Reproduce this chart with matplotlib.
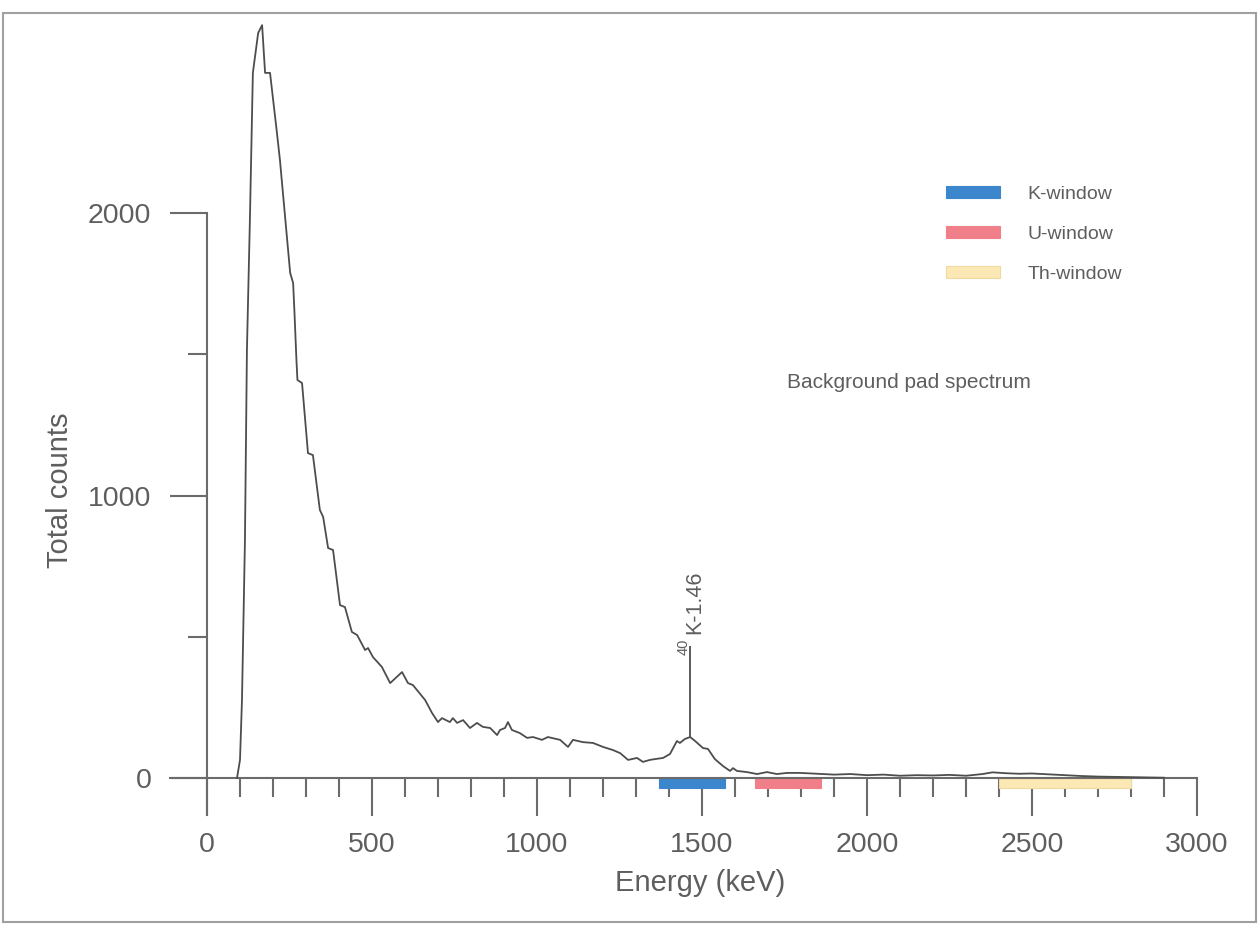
import matplotlib
matplotlib.use("Agg")
import matplotlib.pyplot as plt
from matplotlib.patches import Patch, Rectangle
from matplotlib.ticker import FixedLocator

plt.rcParams['font.family'] = ['Liberation Sans', 'DejaVu Sans']

# ---- data ----
energy = [91, 100, 106, 115, 121, 130, 139, 155, 167, 176, 191, 212, 221, 252, 261,
          265, 271, 274, 288, 306, 321, 342, 352, 367, 382, 403, 418, 439, 455, 479,
          488, 503, 530, 555, 591, 609, 624, 661, 682, 700, 712, 736, 745, 758, 776,
          797, 818, 836, 858, 879, 888, 903, 912, 924, 948, 970, 988, 1015, 1033,
          1070, 1094, 1109, 1139, 1170, 1200, 1230, 1252, 1276, 1303, 1321, 1342,
          1358, 1382, 1403, 1424, 1433, 1448, 1464, 1479, 1503, 1518, 1539, 1564,
          1585, 1594, 1606, 1636, 1667, 1697, 1727, 1758, 1797, 1850, 1900, 1950,
          2000, 2050, 2100, 2150, 2200, 2250, 2300, 2350, 2380, 2420, 2460, 2500,
          2550, 2600, 2650, 2700, 2750, 2800, 2850, 2900]
counts = [0, 64, 276, 842, 1515, 1975, 2496, 2637, 2665, 2496, 2496, 2283, 2188, 1788, 1752,
          1650, 1480, 1409, 1398, 1150, 1143, 949, 924, 814, 807, 612, 605, 517, 506, 453,
          460, 428, 393, 336, 375, 336, 329, 276, 230, 198, 212, 198, 212, 195, 205,
          177, 195, 181, 177, 152, 170, 177, 198, 170, 159, 142, 145, 135, 145,
          135, 110, 135, 127, 124, 110, 99, 88, 64, 71, 57, 64,
          67, 71, 85, 131, 124, 138, 145, 131, 106, 103, 67, 42,
          25, 35, 25, 21, 14, 21, 14, 18, 18, 15, 12, 14,
          10, 12, 8, 10, 9, 11, 8, 14, 20, 17, 15, 16,
          13, 10, 7, 5, 4, 3, 2, 1]

window_names = ['K-window', 'U-window', 'Th-window']
window_lo = [1370, 1660, 2400]
window_hi = [1570, 1860, 2800]
window_colors = ['#3b86cc', '#f07f8a', '#fbe8b4']
window_edges = ['#3b86cc', '#f07f8a', '#eed9a0']

peak_energy = 1464
peak_counts = 145
peak_line_top = 467

x_major = [0, 500, 1000, 1500, 2000, 2500, 3000]
x_minor = [v for v in range(100, 3000, 100) if v % 500 != 0]
y_major = [0, 1000, 2000]
y_minor = [500, 1500]

# ---- figure ----
W, H = 1260, 926
fig = plt.figure(figsize=(W / 100, H / 100), dpi=100)
ax = fig.add_axes([0, 0, 1, 1])
ax.patch.set_alpha(0)

# pixel mapping: x_px = 207 + 0.33*keV ; y_row = 778 - 0.2825*counts
sx, x0 = 0.33, 207
sy, y0 = 0.2825, 778
ax.set_xlim(-x0 / sx, (W - x0) / sx)
ax.set_ylim((y0 - H) / sy, y0 / sy)

axcol = '#6b6b6b'
txtcol = '#5e5e5e'

for s in ['top', 'right']:
    ax.spines[s].set_visible(False)
ax.spines['left'].set_position(('data', 0))
ax.spines['bottom'].set_position(('data', 0))
ax.spines['left'].set_bounds(-131, 2000)
ax.spines['bottom'].set_bounds(-112, 3000)
for s in ['left', 'bottom']:
    ax.spines[s].set_color(axcol)
    ax.spines[s].set_linewidth(1.5)

ax.set_xticks(x_major)
ax.set_xticklabels([str(v) for v in x_major])
ax.xaxis.set_minor_locator(FixedLocator(x_minor))
ax.set_yticks(y_major)
ax.set_yticklabels([str(v) for v in y_major])
ax.yaxis.set_minor_locator(FixedLocator(y_minor))

ax.tick_params(axis='both', which='major', direction='out', length=27, width=1.5,
               color=axcol, labelcolor=txtcol, labelsize=20.5)
ax.tick_params(axis='both', which='minor', direction='out', length=13.5, width=1.5,
               color=axcol)
ax.tick_params(axis='x', which='major', pad=12)
ax.tick_params(axis='y', which='major', pad=13)

# spectrum
ax.plot(energy, counts, color='#4d4d4d', lw=1.3, zorder=3)

# energy windows
for lo, hi, c, ec in zip(window_lo, window_hi, window_colors, window_edges):
    ax.bar(lo, -35, width=hi - lo, bottom=0, align='edge', color=c,
           edgecolor=ec, linewidth=0.8, zorder=2)

# 40K annotation
ax.vlines(peak_energy, peak_counts, peak_line_top, color='#4d4d4d', lw=1.3)
ax.text(1494, 510, 'K-1.46', rotation=90, rotation_mode='anchor', ha='left',
        va='baseline', fontsize=15.5, color=txtcol)
ax.text(1457, 435, '40', rotation=90, rotation_mode='anchor', ha='left',
        va='baseline', fontsize=10.5, color=txtcol)

# legend
handles = [Patch(facecolor=c, edgecolor=ec, linewidth=0.8)
           for c, ec in zip(window_colors, window_edges)]
leg = ax.legend(handles, window_names, loc='upper left',
                bbox_to_anchor=(946 / W, 1 - 186 / H), bbox_transform=fig.transFigure,
                frameon=False, fontsize=14, handlelength=2.78, handleheight=0.57,
                handletextpad=1.4, labelspacing=1.18, borderpad=0, borderaxespad=0)
for t in leg.get_texts():
    t.set_color(txtcol)

fig.text(787 / W, 1 - 383 / H, 'Background pad spectrum', ha='left', va='center',
         fontsize=15, color=txtcol)

# axis titles
fig.text(700 / W, 1 - 883 / H, 'Energy (keV)', ha='center', va='center',
         fontsize=21, color=txtcol)
fig.text(60 / W, 1 - 490 / H, 'Total counts', ha='center', va='center',
         rotation=90, fontsize=21, color=txtcol)

# outer frame
fig.add_artist(Rectangle((3 / W, 4 / H), 1253 / W, 909 / H, transform=fig.transFigure,
                         fill=False, edgecolor='#a0a0a0', linewidth=1.5))

fig.savefig('out.png', dpi=100, facecolor='white')
